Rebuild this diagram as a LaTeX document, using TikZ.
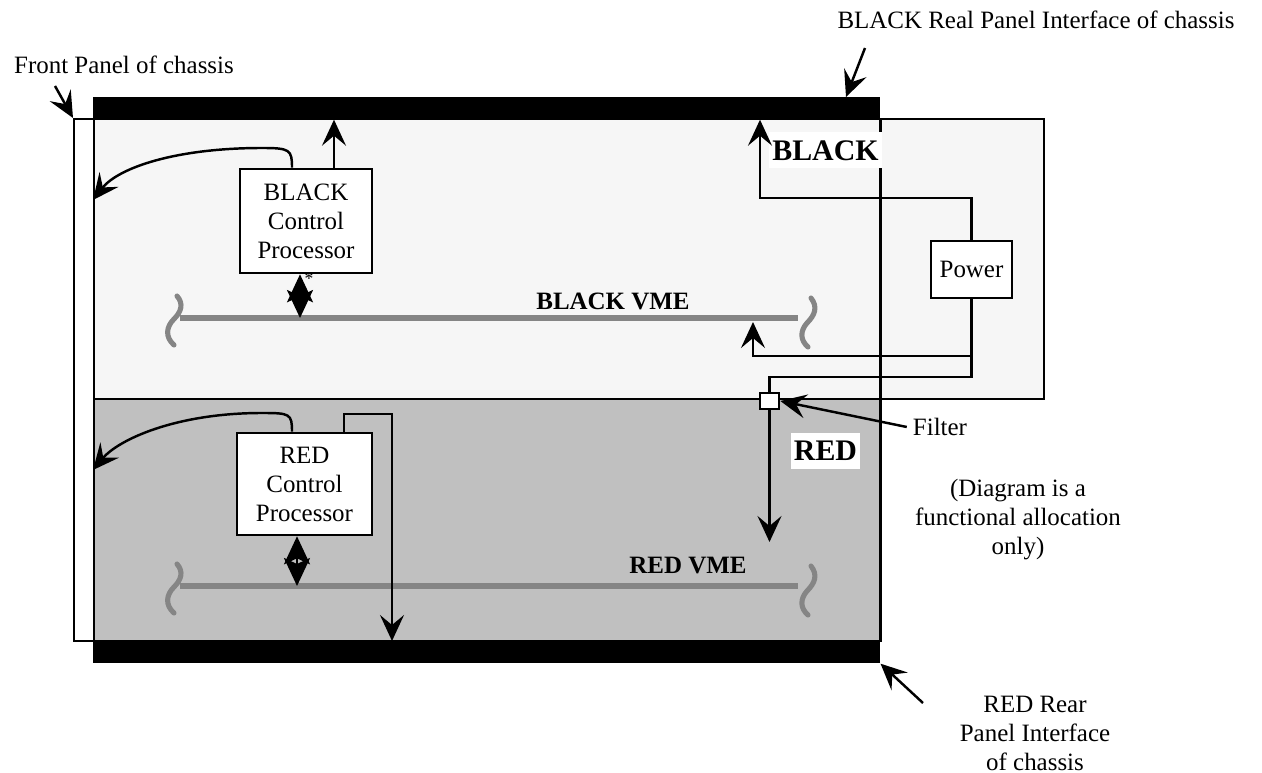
\documentclass[tikz,border=0pt]{standalone}
\usepackage{fontspec}
\setmainfont{Liberation Serif}
\usetikzlibrary{arrows.meta}

\definecolor{blackzone}{HTML}{F6F6F6}
\definecolor{redzone}{HTML}{C0C0C0}
\definecolor{vmegray}{HTML}{858585}

\begin{document}
\begin{tikzpicture}[x=0.02cm, y=-0.02cm, font=\fontsize{14.2}{16.5}\selectfont,
  zone/.style={draw, line width=1.4pt, inner sep=0pt, anchor=north west},
  bar/.style={fill=black, inner sep=0pt, anchor=north west, minimum width=15.74cm, minimum height=0.44cm},
  box/.style={draw, line width=1.5pt, fill=white, align=center, inner sep=0pt},
  wire/.style={line width=1.4pt},
  arr/.style={line width=1.4pt, -{Stealth[length=0.52cm, width=0.48cm, inset=0.2cm]}},
  dblarr/.style={line width=1.4pt, {Stealth[length=0.56cm, width=0.52cm, inset=0.12cm]}-{Stealth[length=0.56cm, width=0.52cm, inset=0.12cm]}},
  bus/.style={draw=vmegray, line width=2.9pt},
  busend/.style={draw=vmegray, line width=2.9pt, line cap=round},
  zonelbl/.style={fill=white, font=\fontsize{17}{17}\selectfont\bfseries, inner xsep=0.06cm, minimum height=0.72cm},
  buslbl/.style={font=\fontsize{14.2}{16.5}\selectfont\bfseries, inner sep=0pt}
]
\useasboundingbox (0,0) rectangle (1262,773);

% Zones
\node[zone, fill=blackzone, minimum width=19cm, minimum height=5.6cm] (bzone) at (93,118) {};
\node[zone, fill=redzone, minimum width=15.74cm, minimum height=4.84cm] (rzone) at (93,398) {};

% Front panel
\node[zone, minimum width=0.4cm, minimum height=10.44cm] (fp) at (73,118) {};

% Real and rear panels
\node[bar] (topbar) at (93,97) {};
\node[bar] (botbar) at (93,641) {};
\draw[wire] (topbar.south east) -- (botbar.north east);

% VME busses
\coordinate (bbusL) at (180,318);
\coordinate (bbusR) at (798,318);
\coordinate (rbusL) at (180,586);
\coordinate (rbusR) at (798,586);
\draw[bus] (bbusL) -- (bbusR);
\draw[bus] (rbusL) -- (rbusR);
\foreach \y in {0,268} {
  \draw[busend] (177,296+\y) .. controls (184,304+\y) and (181,312+\y) .. (174,319+\y) .. controls (166,327+\y) and (165,337+\y) .. (174,345+\y);
  \draw[busend] (811,298+\y) .. controls (818,307+\y) and (815,315+\y) .. (807,323+\y) .. controls (800,331+\y) and (800,340+\y) .. (808,347+\y);
}
\node[buslbl] (bvme) at (613,301) {BLACK VME};
\node[buslbl] (rvme) at (688,566) {RED VME};

% Boxes
\node[box, minimum width=2.64cm, minimum height=2.08cm] (blackcp) at (306,221) {BLACK\\Control\\Processor};
\node[box, minimum width=2.7cm, minimum height=2.04cm] (redcp) at (304.5,484) {RED\\Control\\Processor};
\node[box, minimum width=1.62cm, minimum height=1.14cm] (power) at (971.5,269.5) {Power};
\node[box, minimum width=0.38cm, minimum height=0.32cm] (filter) at (769.5,401) {};

% Zone labels
\node[zonelbl] (blacklbl) at (825.5,150.5) {BLACK};
\node[zonelbl] (redlbl) at (825.5,451) {RED};

% BLACK control processor
\coordinate (btop) at (262,148);
\coordinate (bfp) at (93,200);
\draw[arr] ([xshift=-0.28cm]blackcp.north) .. controls +(0,-18) and +(28,0) .. (btop) .. controls (175,148) and (118,168) .. (bfp);
\draw[arr] ([xshift=0.56cm]blackcp.north) -- ([xshift=0.56cm]blackcp.north |- topbar.south);
\draw[dblarr] ([xshift=-0.12cm]blackcp.south) -- ([xshift=-0.12cm]blackcp.south |- bbusL);
\node[font=\fontsize{10}{10}\selectfont, inner sep=0pt] (ast) at (309,279) {*};

% RED control processor
\coordinate (rtop) at (262,413);
\coordinate (rfp) at (93,470);
\draw[arr] ([xshift=-0.25cm]redcp.north) .. controls +(0,-18) and +(28,0) .. (rtop) .. controls (175,413) and (118,440) .. (rfp);
\coordinate (rcp1) at (392,414);
\draw[arr] ([xshift=0.79cm]redcp.north) |- (rcp1) -- (rcp1 |- botbar.north);
\draw[dblarr] ([xshift=-0.15cm]redcp.south) -- ([xshift=-0.15cm]redcp.south |- rbusL);

% Power distribution
\coordinate (pw1) at (760,198);
\draw[arr] (power.north) |- (pw1) -- (pw1 |- topbar.south);
\coordinate (pw2) at (971.5,377);
\draw[wire] (power.south) -- (pw2) -| (filter.north);
\coordinate (pw3) at (971.5,356);
\coordinate (pw4) at (753,322);
\draw[arr] (pw3) -| (pw4);
\coordinate (flt1) at (769.5,542);
\draw[arr] (filter.south) -- (flt1);

% Annotations
\node (fplbl) at (124,65) {Front Panel of chassis};
\coordinate (fpt) at (55,86);
\draw[arr] (fpt) -- (fp.north west);
\node (bplbl) at (1036,20) {BLACK Real Panel Interface of chassis};
\coordinate (bpt) at (865,48);
\coordinate (bph) at (846,97);
\draw[arr] (bpt) -- (bph);
\node[align=center] (rplbl) at (1035,733) {RED Rear\\Panel Interface\\of chassis};
\coordinate (rpt) at (923,703);
\draw[arr] (rpt) -- (botbar.south east);
\node (fltlbl) at (940,427) {Filter};
\draw[arr] (fltlbl.west) -- (filter.east);
\node[align=center] (note) at (1018,520) {(Diagram is a\\functional allocation\\only)};
\end{tikzpicture}
\end{document}
